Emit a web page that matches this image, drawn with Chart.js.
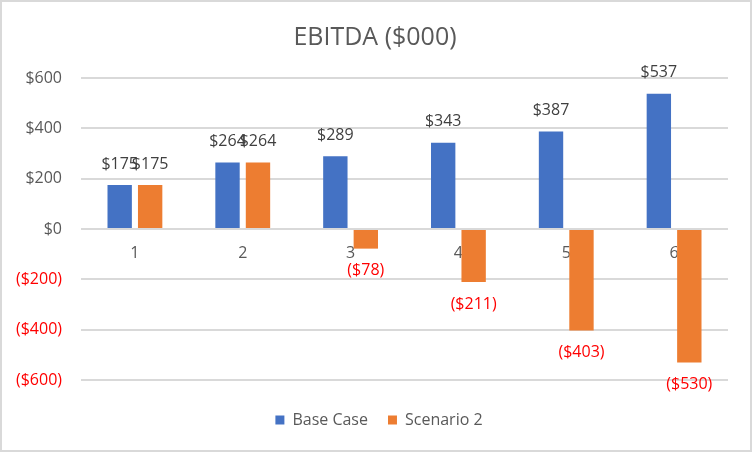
<!DOCTYPE html>
<html><head><meta charset="utf-8">
<script src="https://cdn.jsdelivr.net/npm/chart.js@4"></script>
<style>html,body{margin:0;padding:0;background:#fff}#wrap{width:752px;height:452px}</style>
</head><body><div id="wrap"><canvas id="c" width="752" height="452"></canvas></div>
<script>
const categories = ['1','2','3','4','5','6'];
const baseCase = [175, 264, 289, 343, 387, 537];
const scenario2 = [175, 264, -78, -211, -403, -530];
const seriesNames = ['Base Case', 'Scenario 2'];
const chartTitle = 'EBITDA ($000)';
const yMin = -600, yMax = 600, yStep = 200;

const FONT = "'Open Sans', 'Noto Sans', sans-serif";
const GREY = '#595959', RED = '#FF0000';
const fmt = v => v < 0 ? '($' + Math.abs(v) + ')' : '$' + v;

const frame = {
  id: 'frame',
  afterLayout(chart) {
    if (chart.legend) { chart.legend.left += 8; chart.legend.right += 8; }
    if (chart.titleBlock) { chart.titleBlock.left += 4; chart.titleBlock.right += 4; }
  },
  beforeDraw(chart) {
    const c = chart.ctx;
    c.save();
    c.fillStyle = '#fff';
    c.fillRect(0, 0, chart.width, chart.height);
    c.restore();
  },
  afterDraw(chart) {
    const c = chart.ctx;
    c.save();
    c.strokeStyle = '#d9d9d9';
    c.lineWidth = 2;
    c.strokeRect(1, 1, chart.width - 2, chart.height - 2);
    c.restore();
  }
};

const labels = {
  id: 'labels',
  afterDatasetsDraw(chart) {
    const c = chart.ctx;
    c.save();
    c.font = '16px ' + FONT;
    c.textAlign = 'center';
    c.textBaseline = 'middle';
    chart.data.datasets.forEach((ds, i) => {
      const meta = chart.getDatasetMeta(i);
      meta.data.forEach((el, j) => {
        const v = ds.data[j];
        c.fillStyle = v < 0 ? RED : '#404040';
        const y = v < 0 ? el.y + 22 : el.y - 21;
        c.fillText(fmt(v), el.x, y);
      });
    });
    c.restore();
  }
};

new Chart(document.getElementById('c'), {
  type: 'bar',
  data: {
    labels: categories,
    datasets: [
      { label: seriesNames[0], data: baseCase, backgroundColor: '#4472C4' },
      { label: seriesNames[1], data: scenario2, backgroundColor: '#ED7D31' }
    ]
  },
  options: {
    responsive: false,
    animation: false,
    events: [],
    datasets: { bar: { categoryPercentage: 0.565, barPercentage: 0.8 } },
    layout: { padding: { top: 16, right: 24, bottom: 14, left: 14 } },
    plugins: {
      title: {
        display: true, text: chartTitle, color: GREY,
        font: { family: FONT, size: 25, weight: 'normal' },
        padding: { top: 7, bottom: 25 }
      },
      legend: {
        position: 'bottom',
        labels: {
          color: GREY, boxWidth: 9, boxHeight: 9, padding: 20,
          font: { family: FONT, size: 16 }
        }
      },
      tooltip: { enabled: false }
    },
    scales: {
      x: {
        position: { y: 0 },
        grid: { display: false, drawTicks: false },
        border: { display: false },
        ticks: { color: GREY, padding: 15, font: { family: FONT, size: 16 } }
      },
      gap: {
        type: 'category', position: 'bottom', display: true,
        grid: { display: false, drawTicks: false },
        border: { display: false },
        ticks: { display: false },
        afterFit(s) { s.height = 12; }
      },
      y: {
        min: yMin, max: yMax,
        grid: { color: '#d9d9d9', lineWidth: 2, drawTicks: false },
        border: { display: false },
        afterFit(s) { s.width = 67; },
        ticks: {
          stepSize: yStep, padding: 19,
          color: ctx => ctx.tick && ctx.tick.value < 0 ? RED : GREY,
          font: { family: FONT, size: 16 },
          callback: v => fmt(v)
        }
      }
    }
  },
  plugins: [frame, labels]
});
</script>
</body></html>
